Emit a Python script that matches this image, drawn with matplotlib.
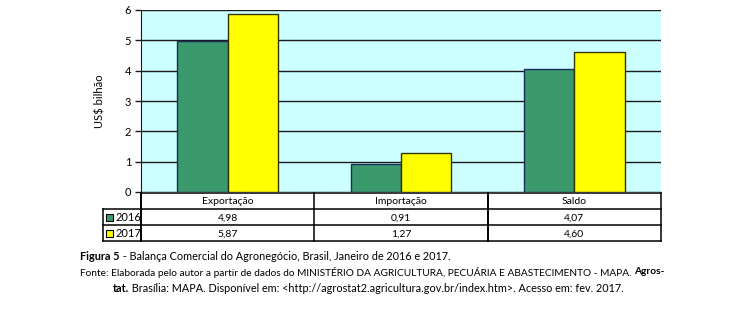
import matplotlib.pyplot as plt
from matplotlib.patches import Rectangle

categorias = ["Exportação", "Importação", "Saldo"]
anos = ["2016", "2017"]
valores_2016 = [4.98, 0.91, 4.07]
valores_2017 = [5.87, 1.27, 4.60]

cores = ["#3a9a6c", "#ffff00"]
bordas = ["#1a2a5a", "#333300"]

plt.rcParams['font.family'] = ['Lato', 'DejaVu Sans']

fig = plt.figure(figsize=(7.48, 3.36), dpi=100)
W, H = 748, 336

# area do grafico
ax = fig.add_axes([141 / W, 1 - 192 / H, 520 / W, 182 / H])
ax.set_facecolor("#ccffff")
larg = 0.29
x = range(len(categorias))
ax.bar([i - larg / 2 for i in x], valores_2016, width=larg, color=cores[0],
       edgecolor=bordas[0], linewidth=1, zorder=3)
ax.bar([i + larg / 2 for i in x], valores_2017, width=larg, color=cores[1],
       edgecolor=bordas[1], linewidth=1, zorder=3)
ax.set_xlim(-0.5, 2.5)
ax.set_ylim(0, 6)
ax.set_yticks(range(7))
ax.grid(axis="y", color="#1a1a1a", linewidth=1, zorder=1)
ax.set_xticks([])
for s in ["top", "right", "bottom"]:
    ax.spines[s].set_visible(False)
ax.spines["left"].set_color("#1a1a1a")
ax.tick_params(axis="y", length=4, width=1, color="#1a1a1a", labelsize=8, pad=3)
ax.set_ylabel("US$ bilhão", fontsize=8, labelpad=14)

# tabela de dados abaixo do grafico
tb = fig.add_axes([141 / W, 1 - 241 / H, 520 / W, 48 / H])
tb.set_xlim(-0.5, 2.5)
tb.set_ylim(3, 0)
tb.axis("off")
esq = -0.5 - 38 / 520 * 3
lw = 1.1
tb.plot([-0.5, 2.5], [0, 0], color="black", lw=lw, clip_on=False)
for yy in [1, 2, 3]:
    tb.plot([esq, 2.5], [yy, yy], color="black", lw=lw, clip_on=False)
tb.plot([esq, esq], [1, 3], color="black", lw=lw, clip_on=False)
for xx in [-0.5, 0.5, 1.5, 2.5]:
    tb.plot([xx, xx], [0, 3], color="black", lw=1.4 if xx in (-0.5, 1.5) else lw,
            clip_on=False)

for i, cat in enumerate(categorias):
    tb.text(i, 0.55, cat, ha="center", va="center", fontsize=7.5)
    tb.text(i, 1.55, f"{valores_2016[i]:.2f}".replace(".", ","),
            ha="center", va="center", fontsize=7.5)
    tb.text(i, 2.55, f"{valores_2017[i]:.2f}".replace(".", ","),
            ha="center", va="center", fontsize=7.5)

for j, ano in enumerate(anos):
    tb.add_patch(Rectangle((esq + 0.02, j + 1.3), 0.04, 0.45, facecolor=cores[j],
                           edgecolor="black", lw=0.8, clip_on=False))
    tb.text(esq + 0.07, j + 1.55, ano, ha="left", va="center", fontsize=8)

# legenda e fonte, montadas pedaco a pedaco (negrito + normal)
renderer = fig.canvas.get_renderer()


def linha(x0, y, partes, fs):
    xp = x0
    for txt, peso in partes:
        t = fig.text(xp / W, 1 - y / H, txt, fontsize=fs, va="center",
                     fontweight=peso)
        xp += t.get_window_extent(renderer).width


linha(80, 256, [("Figura 5", "bold"),
                (" - Balança Comercial do Agronegócio, Brasil, Janeiro de 2016 e 2017.", "normal")],
      7.8)
linha(80, 272, [("Fonte: Elaborada pelo autor a partir de dados do MINISTÉRIO DA AGRICULTURA, "
                 "PECUÁRIA E ABASTECIMENTO - MAPA. ", "normal"),
                ("Agros-", "bold")], 7.3)
linha(113, 288, [("tat.", "bold"),
                 (" Brasília: MAPA. Disponível em: <http://agrostat2.agricultura.gov.br/index.htm>. "
                  "Acesso em: fev. 2017.", "normal")], 7.8)

fig.savefig("out.png", dpi=100)
